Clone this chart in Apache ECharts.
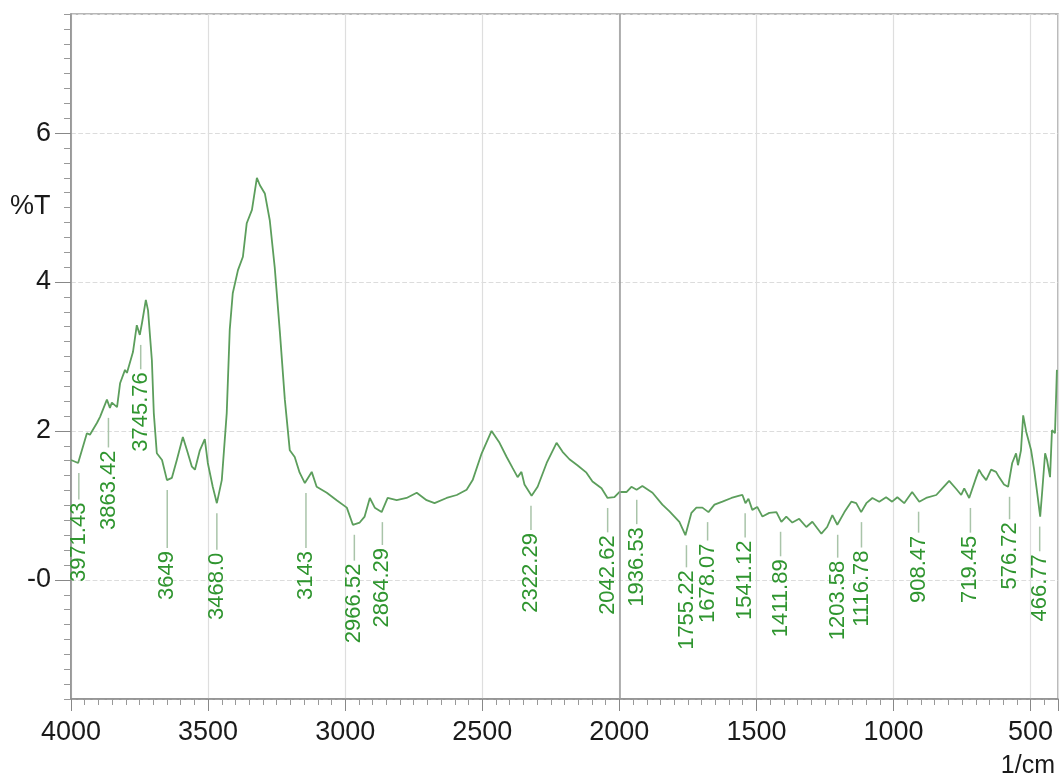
<!DOCTYPE html>
<html>
<head>
<meta charset="utf-8">
<script src="https://cdn.jsdelivr.net/npm/echarts@6/dist/echarts.min.js"></script>
<style>
  html, body { margin: 0; padding: 0; background: #fff; }
  #chart { width: 1061px; height: 783px; }
</style>
</head>
<body>
<div id="chart"></div>
<script>
// spectrum (1/cm, %T)
var wavenumber = [4000, 3974, 3942, 3931, 3905, 3894, 3869, 3858, 3851, 3832, 3821, 3803, 3796, 3774, 3760, 3749, 3741, 3727, 3719, 3705,
  3698, 3687, 3668, 3650, 3632, 3614, 3592, 3577, 3559, 3548, 3530, 3512, 3501, 3483, 3468, 3450, 3432, 3421, 3410, 3391,
  3373, 3359, 3340, 3322, 3311, 3293, 3275, 3257, 3238, 3220, 3202, 3184, 3166, 3147, 3122, 3104, 3067, 3031, 2994, 2972,
  2947, 2929, 2910, 2892, 2867, 2845, 2812, 2776, 2739, 2703, 2674, 2630, 2593, 2557, 2535, 2502, 2466, 2437, 2411, 2389,
  2371, 2357, 2346, 2320, 2298, 2265, 2229, 2207, 2182, 2153, 2120, 2098, 2065, 2043, 2018, 2000, 1974, 1956, 1937, 1916,
  1879, 1843, 1817, 1781, 1759, 1737, 1719, 1697, 1675, 1653, 1624, 1591, 1562, 1551, 1540, 1529, 1515, 1497, 1478, 1453,
  1427, 1409, 1391, 1369, 1344, 1318, 1296, 1263, 1242, 1223, 1205, 1179, 1154, 1136, 1118, 1099, 1077, 1052, 1027, 1005,
  986, 961, 932, 906, 881, 844, 822, 797, 771, 753, 742, 724, 699, 688, 677, 662, 644, 626, 615, 597,
  582, 567, 553, 546, 535, 527, 516, 498, 487, 476, 465, 458, 447, 440, 429, 422, 411, 404];
var transmittance = [1.61, 1.57, 1.97, 1.95, 2.11, 2.19, 2.42, 2.31, 2.38, 2.32, 2.64, 2.82, 2.78, 3.06, 3.42, 3.29, 3.45, 3.76, 3.62, 2.95,
  2.24, 1.70, 1.61, 1.34, 1.37, 1.61, 1.92, 1.74, 1.52, 1.48, 1.74, 1.89, 1.57, 1.25, 1.03, 1.34, 2.24, 3.36, 3.85, 4.16,
  4.34, 4.79, 4.97, 5.40, 5.30, 5.19, 4.83, 4.20, 3.32, 2.42, 1.74, 1.65, 1.44, 1.30, 1.45, 1.25, 1.17, 1.07, 0.97, 0.74,
  0.77, 0.85, 1.10, 0.97, 0.91, 1.10, 1.07, 1.10, 1.17, 1.07, 1.03, 1.10, 1.14, 1.21, 1.34, 1.70, 2.00, 1.84, 1.65, 1.50,
  1.38, 1.45, 1.28, 1.13, 1.25, 1.57, 1.84, 1.72, 1.62, 1.54, 1.44, 1.32, 1.23, 1.10, 1.11, 1.18, 1.18, 1.25, 1.21, 1.26,
  1.17, 1.01, 0.92, 0.78, 0.60, 0.90, 0.97, 0.97, 0.91, 1.01, 1.05, 1.10, 1.13, 1.14, 1.03, 1.09, 0.94, 0.98, 0.85, 0.90,
  0.91, 0.78, 0.85, 0.77, 0.82, 0.71, 0.78, 0.62, 0.71, 0.87, 0.74, 0.91, 1.05, 1.03, 0.91, 1.03, 1.10, 1.05, 1.11, 1.05,
  1.11, 1.03, 1.18, 1.05, 1.10, 1.14, 1.23, 1.33, 1.22, 1.14, 1.23, 1.10, 1.37, 1.48, 1.41, 1.34, 1.48, 1.45, 1.38, 1.28,
  1.25, 1.57, 1.70, 1.54, 1.74, 2.21, 1.99, 1.74, 1.48, 1.17, 0.85, 1.17, 1.70, 1.61, 1.38, 2.01, 1.97, 2.82];

// peak picks
var peakWn = [3971.43, 3863.42, 3745.76, 3649, 3468, 3143, 2966.52, 2864.29, 2322.29, 2042.62, 1936.53,
  1755.22, 1678.07, 1541.12, 1411.89, 1203.58, 1116.78, 908.47, 719.45, 576.72, 466.77];
var peakText = ['3971.43', '3863.42', '3745.76', '3649', '3468.0', '3143', '2966.52', '2864.29', '2322.29', '2042.62', '1936.53',
  '1755.22', '1678.07', '1541.12', '1411.89', '1203.58', '1116.78', '908.47', '719.45', '576.72', '466.77'];
var peakT = [1.57, 2.31, 3.29, 1.34, 1.03, 1.30, 0.74, 0.91, 1.13, 1.10, 1.21,
  0.60, 0.91, 1.03, 0.78, 0.74, 0.91, 1.05, 1.10, 1.25, 0.85];
// where each label text starts (bottom end), in %T
var labelBase = [-0.03, 0.67, 1.72, -0.27, -0.54, -0.27, -0.85, -0.64, -0.44, -0.47, -0.36,
  -0.94, -0.58, -0.54, -0.77, -0.81, -0.63, -0.31, -0.31, -0.13, -0.56];

var yMajor = [0, 2, 4, 6];

var FONT = '"Liberation Sans", Arial, sans-serif';
var peakFont = '22px ' + FONT;

var ctx = document.createElement('canvas').getContext('2d');
ctx.font = peakFont;
function textW(s) { return ctx.measureText(s).width; }

var lineData = wavenumber.map(function (w, i) { return [w, transmittance[i]]; });
var peakData = peakWn.map(function (w, i) { return [w, peakT[i], labelBase[i]]; });

function renderPeak(params, api) {
  var p = api.coord([api.value(0), api.value(1)]);
  var b = api.coord([api.value(0), api.value(2)]);
  var txt = peakText[params.dataIndex];
  var top = b[1] - textW(txt);
  var children = [];
  if (top - 3 > p[1] + 10) {
    children.push({
      type: 'line',
      shape: { x1: p[0], y1: p[1] + 10, x2: p[0], y2: top - 3 },
      style: { stroke: '#a9c4a9', lineWidth: 1.5 }
    });
  }
  children.push({
    type: 'text',
    x: b[0], y: b[1],
    rotation: Math.PI / 2,
    style: { text: txt, fill: '#2f952f', font: peakFont, align: 'left', verticalAlign: 'middle' }
  });
  return { type: 'group', children: children };
}

var chart = echarts.init(document.getElementById('chart'), null, { renderer: 'canvas' });
var option = {
  animation: false,
  backgroundColor: '#fff',
  grid: { left: 71, right: 3, top: 14, bottom: 84, show: true, borderColor: '#a0a0a0', borderWidth: 1.5 },
  xAxis: [
    {
      type: 'value', min: 400, max: 4000, inverse: true, interval: 50,
      axisLine: { onZero: false, lineStyle: { color: '#8c8c8c', width: 1.5 } },
      axisTick: { length: 6, lineStyle: { color: '#999' } },
      axisLabel: { show: false },
      splitLine: { show: false }
    },
    {
      type: 'value', min: 400, max: 4000, inverse: true, splitNumber: 7, position: 'bottom',
      axisLine: { show: false, onZero: false },
      axisTick: { length: 12, lineStyle: { color: '#888' } },
      axisLabel: {
        fontSize: 27, color: '#1a1a1a', fontFamily: FONT, margin: 20,
        formatter: function (v) { return v % 500 === 0 ? String(v) : ''; }
      },
      splitLine: { show: true, lineStyle: { color: '#dedede', width: 1.2 } }
    }
  ],
  yAxis: [
    {
      type: 'value', min: -1.6, max: 7.6, interval: 0.2,
      axisLine: { show: true, onZero: false, lineStyle: { color: '#8c8c8c', width: 1.5 } },
      axisTick: { show: true, length: 7, lineStyle: { color: '#999' } },
      axisLabel: { show: false },
      splitLine: { show: false }
    },
    {
      type: 'value', min: -1.6, max: 7.6, splitNumber: 5, position: 'left',
      axisLine: { show: false, onZero: false },
      axisTick: { show: true, length: 16, lineStyle: { color: '#888' } },
      axisLabel: {
        fontSize: 27, color: '#1a1a1a', fontFamily: FONT, margin: 20,
        showMinLabel: false, showMaxLabel: false,
        formatter: function (v) { return yMajor.indexOf(v) < 0 ? '' : (v === 0 ? '-0' : String(v)); }
      },
      splitLine: { show: true, lineStyle: { color: '#dcdcdc', type: 'dashed', width: 1.2 } }
    }
  ],
  graphic: [
    { type: 'text', left: 10, top: 193, style: { text: '%T', font: '27px ' + FONT, fill: '#1a1a1a' } },
    { type: 'text', right: 6, top: 754, style: { text: '1/cm', font: '25px ' + FONT, fill: '#1a1a1a' } }
  ],
  series: [
    {
      type: 'line',
      xAxisIndex: 0, yAxisIndex: 0,
      data: lineData,
      showSymbol: false,
      lineStyle: { color: '#5c9e5c', width: 1.8 },
      markLine: {
        silent: true, symbol: 'none',
        label: { show: false },
        lineStyle: { color: '#9a9a9a', type: 'solid', width: 1.5 },
        data: [{ xAxis: 2000 }]
      },
      z: 3
    },
    {
      type: 'custom',
      xAxisIndex: 0, yAxisIndex: 0,
      data: peakData,
      renderItem: renderPeak,
      clip: false,
      z: 4
    }
  ]
};
chart.setOption(option);
</script>
</body>
</html>
